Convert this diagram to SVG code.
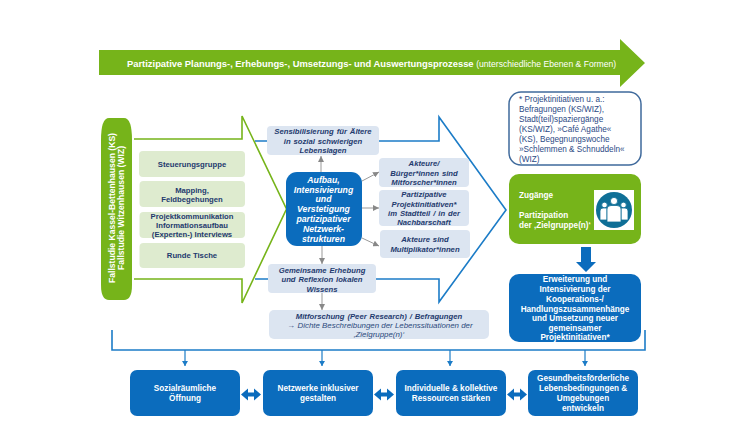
<svg xmlns="http://www.w3.org/2000/svg" width="750" height="422" viewBox="0 0 750 422">
<style>
text{font-family:"Liberation Sans",Arial,sans-serif;text-anchor:middle}
.g{font-size:7.700px;font-weight:bold;fill:#1f3a6e}
.i{font-size:7.700px;font-weight:bold;font-style:italic;fill:#1f3a6e;word-spacing:0.800px}
.w{font-size:8.200px;font-weight:bold;fill:#fff}
.wi{font-size:8.700px;font-weight:bold;font-style:italic;fill:#fff}
.lg{fill:#deebcf}
.lb{fill:#dce5f1}
.db{fill:#0b6cbd}
.gr{fill:#76b41a}
.gl{fill:none;stroke:#76b41a;stroke-width:1.6}
.bl{fill:none;stroke:#1c7cc7;stroke-width:1.6}
.ga{stroke:#999;stroke-width:1;fill:none;marker-end:url(#ag)}
.ba{stroke:#1c7cc7;stroke-width:1.2;fill:none;marker-end:url(#ab)}
</style>
<defs>
<marker id="ag" markerWidth="7" markerHeight="6" refX="6" refY="3" orient="auto" markerUnits="userSpaceOnUse"><path d="M0 0L6 3L0 6Z" fill="#888"/></marker>
<marker id="ab" markerWidth="6" markerHeight="6" refX="5" refY="3" orient="auto" markerUnits="userSpaceOnUse"><path d="M0 0L5 3L0 6Z" fill="#1c7cc7"/></marker>
<path id="dbl" d="M0 5L7 -1V3H13V-1L20 5L13 11V7H7V11Z" fill="#0b6cbd"/>
</defs>
<g id="connectors">
<path class="gl" d="M134 139H242V116L286.500 209L242 303V279H134"/>
<path class="bl" d="M255 141H268M379 141H439V117L506 210L439 302V279H376M255 279H268"/>
<path class="ga" d="M321 172V156"/>
<path class="ga" d="M362 181L379 172"/>
<path class="ga" d="M362 208H379"/>
<path class="ga" d="M362 238L379 246"/>
<path class="ga" d="M322 246V264"/>
<path class="ga" d="M322 293V310"/>
<path class="bl" d="M112 330V350H645V330"/>
<path class="ba" d="M185 350V366"/>
<path class="ba" d="M322 350V366"/>
<path class="ba" d="M450 350V366"/>
<path class="ba" d="M585 350V366"/>
<use href="#dbl" x="241" y="389.500"/>
<use href="#dbl" x="374" y="389.500"/>
<use href="#dbl" x="507" y="389.500"/>
<path d="M581 247H591V262H596L586 272L576 262H581Z" fill="#0b6cbd"/>
</g>
<g id="top-arrow">
<path class="gr" d="M99 50H620V39L645 63L620 87V75H99Z"/>
<text x="127" y="66.500" style="text-anchor:start;font-size:9.400px;font-weight:bold" fill="#fff">Partizipative Planungs-, Erhebungs-, Umsetzungs- und Auswertungsprozesse <tspan font-weight="normal" font-size="8.600px">(unterschiedliche Ebenen &amp; Formen)</tspan></text>
</g>
<g id="fallstudie">
<path class="gr" d="M101 140Q101 118 109 118H124Q132 118 132 140V285Q132 300 124 300H109Q101 300 101 285Z"/>
<text transform="translate(115 208) rotate(-90)" style="font-size:8.600px;font-weight:bold" fill="#fff">Fallstudie Kassel-Bettenhausen (KS)</text>
<text transform="translate(124 208) rotate(-90)" style="font-size:8.600px;font-weight:bold" fill="#fff">Fallstudie Witzenhausen (WIZ)</text>
</g>
<g id="steuerung"><rect class="lg" x="139" y="151" width="106" height="26" rx="4"/><text class="g" x="192" y="167">Steuerungsgruppe</text></g>
<g id="mapping"><rect class="lg" x="139.500" y="181" width="105.500" height="26" rx="4"/><text class="g"><tspan x="192" y="193">Mapping,</tspan><tspan x="192" y="202">Feldbegehungen</tspan></text></g>
<g id="projekt"><rect class="lg" x="139.500" y="212" width="105.500" height="26" rx="4"/><text class="g"><tspan x="192" y="219">Projektkommunikation</tspan><tspan x="192" y="228">Informationsaufbau</tspan><tspan x="192" y="237">(Experten-) Interviews</tspan></text></g>
<g id="runde"><rect class="lg" x="139.500" y="243" width="105.500" height="25" rx="4"/><text class="g" x="192" y="258">Runde Tische</text></g>
<g id="sensibilisierung"><rect class="lb" x="267" y="126" width="112" height="29" rx="4"/><text class="i"><tspan x="323" y="134">Sensibilisierung für Ältere</tspan><tspan x="323" y="144">in sozial schwierigen</tspan><tspan x="323" y="153">Lebenslagen</tspan></text></g>
<g id="aufbau"><rect class="db" x="286" y="172" width="76" height="74" rx="11"/><text class="wi"><tspan x="323.500" y="183">Aufbau,</tspan><tspan x="323.500" y="192.500">Intensivierung</tspan><tspan x="323.500" y="202">und</tspan><tspan x="323.500" y="212">Verstetigung</tspan><tspan x="323.500" y="222">partizipativer</tspan><tspan x="323.500" y="232">Netzwerk-</tspan><tspan x="323.500" y="241.500">strukturen</tspan></text></g>
<g id="akteure1"><rect class="lb" x="379" y="158" width="90" height="29" rx="4"/><text class="i"><tspan x="424" y="166">Akteure/</tspan><tspan x="424" y="175.500">Bürger*innen sind</tspan><tspan x="424" y="185">Mitforscher*innen</tspan></text></g>
<g id="partizipative"><rect class="lb" x="379" y="190" width="90" height="36" rx="4"/><text class="i"><tspan x="424" y="197">Partizipative</tspan><tspan x="424" y="206.500">Projektinitiativen*</tspan><tspan x="424" y="215.500">im Stadtteil / in der</tspan><tspan x="424" y="225">Nachbarschaft</tspan></text></g>
<g id="akteure2"><rect class="lb" x="380" y="230" width="90" height="28" rx="4"/><text class="i"><tspan x="425" y="242">Akteure sind</tspan><tspan x="425" y="251.500">Multiplikator*innen</tspan></text></g>
<g id="gemeinsame"><rect class="lb" x="268" y="264" width="108" height="29" rx="4"/><text class="i"><tspan x="322" y="272.500">Gemeinsame Erhebung</tspan><tspan x="322" y="282">und Reflexion lokalen</tspan><tspan x="322" y="291.500">Wissens</tspan></text></g>
<g id="mitforschung"><rect class="lb" x="269" y="310" width="220" height="29" rx="5"/><text class="i"><tspan x="379" y="318.500">Mitforschung (Peer Research) / Befragungen</tspan></text><text style="font-size:7.900px;font-style:italic" fill="#2c4a7c"><tspan x="380" y="328">→ Dichte Beschreibungen der Lebenssituationen der</tspan><tspan x="379" y="337">‚Zielgruppe(n)‘</tspan></text></g>
<g id="note"><rect x="509" y="92" width="132" height="73" rx="12" fill="#fff" stroke="#3f6a9c" stroke-width="1.500"/><text style="text-anchor:start;font-size:8.200px" fill="#2c4a85"><tspan x="519" y="102">* Projektinitiativen u. a.:</tspan><tspan x="519" y="112">Befragungen (KS/WIZ),</tspan><tspan x="519" y="122">Stadt(teil)spaziergänge</tspan><tspan x="519" y="132">(KS/WIZ), »Café Agathe«</tspan><tspan x="519" y="142">(KS), Begegnungswoche</tspan><tspan x="519" y="152">»Schlemmen &amp; Schnuddeln«</tspan><tspan x="519" y="162">(WIZ)</tspan></text></g>
<g id="zugaenge"><rect class="gr" x="509" y="174" width="132" height="70" rx="10"/><text class="w" style="text-anchor:start"><tspan x="519" y="198">Zugänge</tspan><tspan x="519" y="218">Partizipation</tspan><tspan x="519" y="228">der ‚Zielgruppe(n)‘</tspan></text><rect x="594" y="190" width="40" height="40" fill="#fff"/><circle cx="614" cy="210" r="18" fill="#0f6f97"/><g fill="#fff" stroke="#0f6f97" stroke-width="0.800"><circle cx="604.500" cy="205" r="2.800"/><circle cx="623.500" cy="205" r="2.800"/><path d="M600 211Q600 208 603 208H607V220H600ZM621 208H625Q628 208 628 211V220H621Z"/><circle cx="614" cy="201" r="3.600"/><path d="M607 209Q607 205.500 611 205.500H617Q621 205.500 621 209V222H607Z"/></g></g>
<g id="erweiterung"><rect class="db" x="509" y="274" width="132" height="68" rx="10"/><text class="w"><tspan x="575" y="282">Erweiterung und</tspan><tspan x="575" y="291.500">Intensivierung der</tspan><tspan x="575" y="301.500">Kooperations-/</tspan><tspan x="575" y="311.500">Handlungszusammenhänge</tspan><tspan x="575" y="321">und Umsetzung neuer</tspan><tspan x="575" y="331">gemeinsamer</tspan><tspan x="575" y="340">Projektinitiativen*</tspan></text></g>
<g id="sozial"><rect class="db" x="130" y="370" width="110" height="46" rx="7"/><text class="w"><tspan x="185" y="391">Sozialräumliche</tspan><tspan x="185" y="401">Öffnung</tspan></text></g>
<g id="netzwerke"><rect class="db" x="263" y="370" width="110" height="46" rx="7"/><text class="w"><tspan x="318" y="391">Netzwerke inklusiver</tspan><tspan x="318" y="401">gestalten</tspan></text></g>
<g id="ressourcen"><rect class="db" x="396" y="370" width="110" height="46" rx="7"/><text class="w"><tspan x="451" y="391">Individuelle &amp; kollektive</tspan><tspan x="451" y="401">Ressourcen stärken</tspan></text></g>
<g id="gesundheit"><rect class="db" x="528" y="370" width="110" height="46" rx="7"/><text class="w"><tspan x="583" y="381">Gesundheitsförderliche</tspan><tspan x="583" y="391">Lebensbedingungen &amp;</tspan><tspan x="583" y="401">Umgebungen</tspan><tspan x="583" y="411">entwickeln</tspan></text></g>
</svg>
